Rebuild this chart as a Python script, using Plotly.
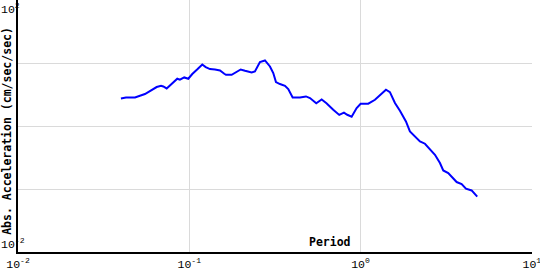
import plotly.graph_objects as go

# Period (sec) and absolute acceleration (cm/sec/sec)
period = [0.0399, 0.0427, 0.0482, 0.0516, 0.0551, 0.0576, 0.0616, 0.0645, 0.0684, 0.0705,
          0.0738, 0.0789, 0.0851, 0.0882, 0.0935, 0.0987, 0.1041, 0.1119, 0.1191, 0.1247,
          0.1321, 0.1413, 0.1511, 0.1601, 0.1638, 0.1768, 0.1848, 0.1996, 0.2115, 0.2313,
          0.2417, 0.2586, 0.2766, 0.2959, 0.3093, 0.3207, 0.3384, 0.3620, 0.3784, 0.4014,
          0.4428, 0.4801, 0.5067, 0.5512, 0.5928, 0.6325, 0.6927, 0.7510, 0.8000, 0.8363,
          0.8870, 0.9489, 1.001, 1.109, 1.214, 1.328, 1.407, 1.484, 1.588, 1.698,
          1.841, 1.942, 2.078, 2.223, 2.377, 2.518, 2.719, 2.908, 3.040, 3.251,
          3.477, 3.639, 3.892, 4.124, 4.452, 4.799]
accel = [2.74, 2.84, 2.84, 3.03, 3.22, 3.46, 3.91, 4.16, 4.36, 4.25,
         3.95, 4.64, 5.63, 5.43, 5.91, 5.63, 6.69, 8.03, 9.50, 8.64,
         8.03, 7.91, 7.63, 6.76, 6.52, 6.52, 6.94, 7.91, 7.55, 7.10,
         7.36, 10.4, 11.0, 8.83, 6.94, 4.99, 4.64, 4.36, 3.87, 2.84,
         2.84, 2.95, 2.78, 2.30, 2.64, 2.30, 1.81, 1.50, 1.63, 1.51,
         1.41, 1.93, 2.26, 2.26, 2.61, 3.34, 3.77, 3.46, 2.32, 1.75,
         1.18, 0.821, 0.684, 0.570, 0.524, 0.448, 0.350, 0.259, 0.197, 0.179,
         0.150, 0.129, 0.120, 0.101, 0.0950, 0.0755]

x_ticks = [0.01, 0.1, 1, 10]
x_exps = ["-2", "-1", "0", "1"]
y_ticks = [0.01, 0.1, 1, 10, 100]


def pow10(e):
    return "10<sup>%s</sup>" % e


MONO = "Liberation Mono"
TICK_FONT = dict(family=MONO, size=11.5, color="black")
TITLE_FONT = dict(family="DejaVu Sans Mono", size=11.5, color="black")

fig = go.Figure()
fig.add_trace(go.Scatter(x=period, y=accel, mode="lines",
                         line=dict(color="#0000ff", width=2), showlegend=False,
                         hoverinfo="skip"))

fig.update_layout(
    width=540, height=270,
    margin=dict(l=18, r=8, t=0, b=18),
    paper_bgcolor="white", plot_bgcolor="white",
    xaxis=dict(type="log", range=[-2, 1.001], tickvals=x_ticks,
               ticktext=[pow10(e) for e in x_exps],
               showgrid=True, gridcolor="#dadada", gridwidth=1,
               showline=True, linecolor="black", linewidth=1.5,
               ticks="", tickfont=TICK_FONT, ticklabeloverflow="allow",
               zeroline=False),
    yaxis=dict(type="log", range=[-2, 2.001], tickvals=y_ticks,
               ticktext=["", "", "", "", ""],
               showgrid=True, gridcolor="#dadada", gridwidth=1,
               showline=True, linecolor="black", linewidth=1.5,
               ticks="", zeroline=False),
    annotations=[
        dict(text="<b>Period</b>", xref="paper", yref="paper", x=0.607, y=0.041,
             xanchor="center", yanchor="middle", showarrow=False, font=TITLE_FONT),
        dict(text="<b>Abs. Acceleration (cm/sec/sec)</b>", xref="paper", yref="paper",
             x=-0.0204, y=0.479, xanchor="center", yanchor="middle", textangle=-90,
             showarrow=False, font=TITLE_FONT),
        dict(text=pow10("2"), xref="paper", yref="paper", x=-0.035, y=1.0,
             xanchor="left", yanchor="top", showarrow=False,
             font=TICK_FONT, borderpad=0),
        dict(text=pow10("-2"), xref="paper", yref="paper", x=-0.035, y=0.0,
             xanchor="left", yanchor="bottom", showarrow=False,
             font=TICK_FONT, borderpad=0),
    ],
)

fig.write_html("out.html")
